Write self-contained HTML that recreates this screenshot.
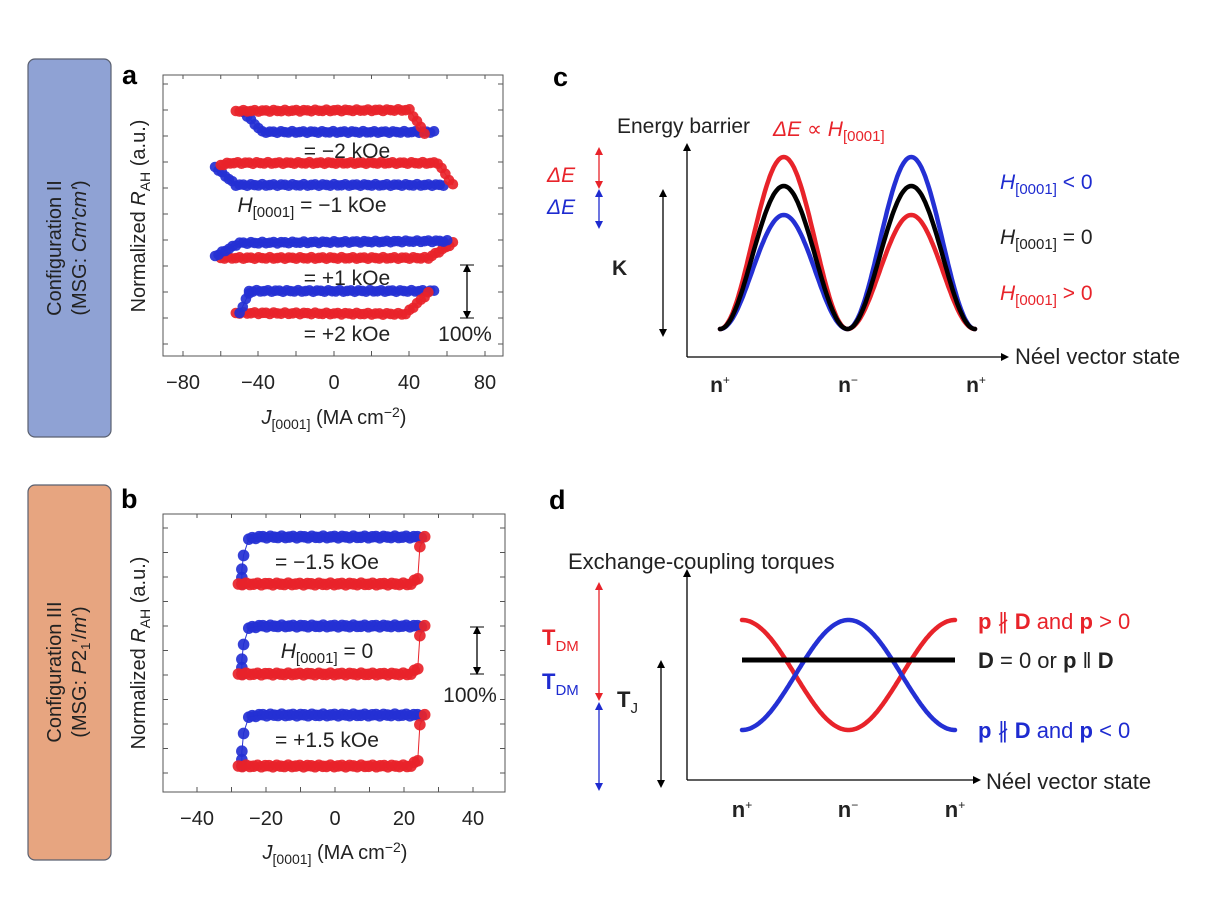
<!DOCTYPE html>
<html><head><meta charset="utf-8">
<style>
html,body{margin:0;padding:0;background:#fff;}
svg{display:block;font-family:"Liberation Sans",Arial,sans-serif;}
</style></head>
<body>
<svg id="s" width="1208" height="906" viewBox="0 0 1208 906" xmlns="http://www.w3.org/2000/svg">
<defs>
<marker id="ak" markerWidth="8" markerHeight="8" refX="4" refY="4" orient="auto-start-reverse" markerUnits="userSpaceOnUse"><path d="M0,0 L8,4 L0,8 z" fill="#000"/></marker>
<marker id="ar" markerWidth="8" markerHeight="8" refX="4" refY="4" orient="auto-start-reverse" markerUnits="userSpaceOnUse"><path d="M0,0 L8,4 L0,8 z" fill="#e8232a"/></marker>
<marker id="ab" markerWidth="8" markerHeight="8" refX="4" refY="4" orient="auto-start-reverse" markerUnits="userSpaceOnUse"><path d="M0,0 L8,4 L0,8 z" fill="#1e2bd0"/></marker>
</defs>
<rect x="28" y="59" width="83" height="378" rx="7" fill="#8fa2d4" stroke="#5a6070" stroke-width="1.2"/>
<text transform="translate(61,248) rotate(-90)" text-anchor="middle" font-size="20" fill="#222">Configuration II</text>
<text transform="translate(86,248) rotate(-90)" text-anchor="middle" font-size="20" fill="#222">(MSG: <tspan font-style="italic">Cm′cm′</tspan>)</text>
<rect x="28" y="485" width="83" height="375" rx="7" fill="#e7a580" stroke="#5a6070" stroke-width="1.2"/>
<text transform="translate(61,672) rotate(-90)" text-anchor="middle" font-size="20" fill="#222">Configuration III</text>
<text transform="translate(86,672) rotate(-90)" text-anchor="middle" font-size="20" fill="#222">(MSG: <tspan font-style="italic">P</tspan>2<tspan font-size="13" dy="4">1</tspan><tspan dy="-4">′/</tspan><tspan font-style="italic">m</tspan>′)</text>

<text x="122" y="84" font-size="27" font-weight="bold">a</text>
<text x="121" y="508" font-size="27" font-weight="bold">b</text>
<text x="553" y="86" font-size="27" font-weight="bold">c</text>
<text x="549" y="509" font-size="27" font-weight="bold">d</text>

<rect x="163" y="75" width="340" height="281" fill="none" stroke="#555" stroke-width="1"/>
<g id="ta"></g>
<text transform="translate(145,216) rotate(-90)" text-anchor="middle" font-size="20" fill="#222">Normalized <tspan font-style="italic">R</tspan><tspan font-size="14" dy="5">AH</tspan><tspan dy="-5"> (a.u.)</tspan></text>
<g font-size="20" fill="#222" text-anchor="middle">
<text x="183" y="389">−80</text><text x="258" y="389">−40</text><text x="334" y="389">0</text><text x="409" y="389">40</text><text x="485" y="389">80</text>
<text x="334" y="424"><tspan font-style="italic">J</tspan><tspan font-size="14" dy="5">[0001]</tspan><tspan dy="-5"> (MA cm</tspan><tspan font-size="14" dy="-7">−2</tspan><tspan dy="7">)</tspan></text>
</g>
<g id="da"></g>
<g font-size="21" fill="#222">
<text x="347" y="158" text-anchor="middle">= −2 kOe</text>
<text x="312" y="212" text-anchor="middle"><tspan font-style="italic">H</tspan><tspan font-size="15" dy="5">[0001]</tspan><tspan dy="-5"> = −1 kOe</tspan></text>
<text x="347" y="285" text-anchor="middle">= +1 kOe</text>
<text x="347" y="341" text-anchor="middle">= +2 kOe</text>
<text x="465" y="341" text-anchor="middle">100%</text>
</g>
<line x1="467" y1="268" x2="467" y2="315" stroke="#000" stroke-width="1.3" marker-start="url(#ak)" marker-end="url(#ak)"/>
<line x1="460" y1="265" x2="474" y2="265" stroke="#000"/><line x1="460" y1="318" x2="474" y2="318" stroke="#000"/>

<rect x="163" y="514" width="342" height="278" fill="none" stroke="#555" stroke-width="1"/>
<g id="tb"></g>
<text transform="translate(145,653) rotate(-90)" text-anchor="middle" font-size="20" fill="#222">Normalized <tspan font-style="italic">R</tspan><tspan font-size="14" dy="5">AH</tspan><tspan dy="-5"> (a.u.)</tspan></text>
<g font-size="20" fill="#222" text-anchor="middle">
<text x="197" y="825">−40</text><text x="266" y="825">−20</text><text x="335" y="825">0</text><text x="404" y="825">20</text><text x="473" y="825">40</text>
<text x="335" y="859"><tspan font-style="italic">J</tspan><tspan font-size="14" dy="5">[0001]</tspan><tspan dy="-5"> (MA cm</tspan><tspan font-size="14" dy="-7">−2</tspan><tspan dy="7">)</tspan></text>
</g>
<g id="db"></g>
<g font-size="21" fill="#222">
<text x="327" y="569" text-anchor="middle">= −1.5 kOe</text>
<text x="327" y="658" text-anchor="middle"><tspan font-style="italic">H</tspan><tspan font-size="15" dy="5">[0001]</tspan><tspan dy="-5"> = 0</tspan></text>
<text x="327" y="747" text-anchor="middle">= +1.5 kOe</text>
<text x="470" y="702" text-anchor="middle">100%</text>
</g>
<line x1="477" y1="630" x2="477" y2="671" stroke="#000" stroke-width="1.3" marker-start="url(#ak)" marker-end="url(#ak)"/>
<line x1="470" y1="627" x2="484" y2="627" stroke="#000"/><line x1="470" y1="674" x2="484" y2="674" stroke="#000"/>

<line x1="687" y1="357" x2="687" y2="147" stroke="#000" stroke-width="1.3" marker-end="url(#ak)"/>
<line x1="687" y1="357" x2="1005" y2="357" stroke="#000" stroke-width="1.3" marker-end="url(#ak)"/>
<g id="cc"></g>
<g font-size="21" fill="#222">
<text x="617" y="133">Energy barrier</text>
<text x="773" y="136" fill="#e8232a"><tspan font-style="italic">ΔE</tspan> ∝ <tspan font-style="italic">H</tspan><tspan font-size="15" dy="5">[0001]</tspan></text>
<text x="547" y="182" fill="#e8232a" font-style="italic">ΔE</text>
<text x="547" y="214" fill="#1e2bd0" font-style="italic">ΔE</text>
<text x="612" y="275" font-weight="bold">K</text>
<text x="1015" y="364" font-size="22">Néel vector state</text>
<text x="1000" y="189" fill="#1e2bd0"><tspan font-style="italic">H</tspan><tspan font-size="15" dy="5">[0001]</tspan><tspan dy="-5"> &lt; 0</tspan></text>
<text x="1000" y="244"><tspan font-style="italic">H</tspan><tspan font-size="15" dy="5">[0001]</tspan><tspan dy="-5"> = 0</tspan></text>
<text x="1000" y="300" fill="#e8232a"><tspan font-style="italic">H</tspan><tspan font-size="15" dy="5">[0001]</tspan><tspan dy="-5"> &gt; 0</tspan></text>
<g font-weight="bold" text-anchor="middle">
<text x="720" y="392">n<tspan font-size="12" dy="-8" font-weight="normal">+</tspan></text>
<text x="848" y="392">n<tspan font-size="12" dy="-8" font-weight="normal">−</tspan></text>
<text x="976" y="392">n<tspan font-size="12" dy="-8" font-weight="normal">+</tspan></text>
</g>
</g>
<line x1="599" y1="151" x2="599" y2="185" stroke="#e8232a" stroke-width="1.3" marker-start="url(#ar)" marker-end="url(#ar)"/>
<line x1="599" y1="193" x2="599" y2="225" stroke="#1e2bd0" stroke-width="1.3" marker-start="url(#ab)" marker-end="url(#ab)"/>
<line x1="663" y1="193" x2="663" y2="333" stroke="#000" stroke-width="1.3" marker-start="url(#ak)" marker-end="url(#ak)"/>

<line x1="687" y1="780" x2="687" y2="573" stroke="#000" stroke-width="1.3" marker-end="url(#ak)"/>
<line x1="687" y1="780" x2="977" y2="780" stroke="#000" stroke-width="1.3" marker-end="url(#ak)"/>
<g id="dd"></g>
<g font-size="22" fill="#222">
<text x="568" y="569">Exchange-coupling torques</text>
<text x="986" y="789">Néel vector state</text>
<text x="542" y="645" fill="#e8232a" font-weight="bold" font-size="22">T<tspan font-weight="normal" font-size="15" dy="6">DM</tspan></text>
<text x="542" y="689" fill="#1e2bd0" font-weight="bold" font-size="22">T<tspan font-weight="normal" font-size="15" dy="6">DM</tspan></text>
<text x="617" y="707" font-weight="bold" font-size="22">T<tspan font-weight="normal" font-size="15" dy="6">J</tspan></text>
<text x="978" y="629" fill="#e8232a"><tspan font-weight="bold">p</tspan> ∦ <tspan font-weight="bold">D</tspan> and <tspan font-weight="bold">p</tspan> &gt; 0</text>
<text x="978" y="668"><tspan font-weight="bold">D</tspan> = 0 or <tspan font-weight="bold">p</tspan> ‖ <tspan font-weight="bold">D</tspan></text>
<text x="978" y="738" fill="#1e2bd0"><tspan font-weight="bold">p</tspan> ∦ <tspan font-weight="bold">D</tspan> and <tspan font-weight="bold">p</tspan> &lt; 0</text>
<g font-weight="bold" text-anchor="middle">
<text x="742" y="817">n<tspan font-size="12" dy="-8" font-weight="normal">+</tspan></text>
<text x="848" y="817">n<tspan font-size="12" dy="-8" font-weight="normal">−</tspan></text>
<text x="955" y="817">n<tspan font-size="12" dy="-8" font-weight="normal">+</tspan></text>
</g>
</g>
<line x1="599" y1="586" x2="599" y2="697" stroke="#e8232a" stroke-width="1.3" marker-start="url(#ar)" marker-end="url(#ar)"/>
<line x1="599" y1="706" x2="599" y2="787" stroke="#1e2bd0" stroke-width="1.3" marker-start="url(#ab)" marker-end="url(#ab)"/>
<line x1="661" y1="664" x2="661" y2="784" stroke="#000" stroke-width="1.3" marker-start="url(#ak)" marker-end="url(#ak)"/>
</svg>
<script>
var NS="http://www.w3.org/2000/svg";
function el(p,t,a){var e=document.createElementNS(NS,t);for(var k in a)e.setAttribute(k,a[k]);document.getElementById(p).appendChild(e);return e;}
var R="#e8232a",B="#2430d4";
for(var y=84;y<356;y+=26){el("ta","line",{x1:163,y1:y,x2:168,y2:y,stroke:"#555"});el("ta","line",{x1:498,y1:y,x2:503,y2:y,stroke:"#555"});}
[183,220.75,258,296,334,371.5,409,447,485].forEach(function(x){el("ta","line",{x1:x,y1:356,x2:x,y2:351,stroke:"#555"});el("ta","line",{x1:x,y1:75,x2:x,y2:79,stroke:"#555"});});
for(var y=528;y<792;y+=24.5){el("tb","line",{x1:163,y1:y,x2:168,y2:y,stroke:"#555"});el("tb","line",{x1:500,y1:y,x2:505,y2:y,stroke:"#555"});}
for(var v=-40;v<=40;v+=10){var x=335+v*3.45;el("tb","line",{x1:x,y1:792,x2:x,y2:787,stroke:"#555"});el("tb","line",{x1:x,y1:514,x2:x,y2:518,stroke:"#555"});}
function series(g,X,knots,step,col,r){
  var pts=[];
  for(var i=0;i<knots.length-1;i++){var a=knots[i],b=knots[i+1];var n=Math.max(1,Math.round(Math.abs(b[0]-a[0])/step));if(Math.abs(b[0]-a[0])<0.5)n=Math.max(1,Math.round(Math.abs(b[1]-a[1])/8));
    for(var j=0;j<n;j++){var t=j/n;pts.push([a[0]+(b[0]-a[0])*t,a[1]+(b[1]-a[1])*t]);}}
  pts.push(knots[knots.length-1]);
  el(g,"polyline",{points:pts.map(function(p){return X(p[0])+","+p[1];}).join(" "),fill:"none",stroke:col,"stroke-width":1});
  pts.forEach(function(p,i){el(g,"circle",{cx:X(p[0]),cy:p[1]+Math.sin(i*2.3)*0.8,r:r,fill:col,"fill-opacity":0.92});});
}
var XA=function(v){return 334+v*1.8875;};
series("da",XA,[[-48,112],[-38,132],[53,132]],2,B,5.3);
series("da",XA,[[-52,111],[40,110],[48,133]],2,R,5.3);
series("da",XA,[[-63,167],[-52,185],[58,185]],2,B,5.3);
series("da",XA,[[-60,165],[-55,163],[55,163],[63,185]],2,R,5.3);
series("da",XA,[[-60,258],[50,258],[63,243]],2,R,5.3);
series("da",XA,[[-63,256],[-50,243],[60,241]],2,B,5.3);
series("da",XA,[[-45,291],[53,291]],2,B,5.3);
series("da",XA,[[-52,313],[38,314],[50,293]],2,R,5.3);
series("da",XA,[[-50,313],[-45,293]],2,B,5.3);
var XB=function(v){return 335+v*3.45;};
[[537,584],[626,674],[715,766]].forEach(function(l){
  series("db",XB,[[-27,l[1]],[-27,l[1]-14],[-26.5,l[0]+18],[-25,l[0]+2],[-22,l[0]],[25,l[0]]],1.1,B,5.8);
  series("db",XB,[[-28,l[1]],[22,l[1]],[24,l[1]-6],[24.6,l[0]+10],[26,l[0]]],1.1,R,5.8);
});
function curve(g,h1,h2,col){var d="";for(var i=0;i<=200;i++){var t=i/200;var x=720+t*255;var hh=t<0.5?h1:h2;var y=329-hh*(1-Math.cos(4*Math.PI*t))/2;d+=(i?"L":"M")+x.toFixed(1)+","+y.toFixed(1);}el(g,"path",{d:d,fill:"none",stroke:col,"stroke-width":4.5,"stroke-linecap":"round"});}
curve("cc",114,172,B);curve("cc",172,114,R);curve("cc",143,143,"#000");
function cs(s,col){var d="";for(var i=0;i<=200;i++){var t=i/200;var x=742+t*213;var y=675-s*55*Math.cos(2*Math.PI*t);d+=(i?"L":"M")+x.toFixed(1)+","+y.toFixed(1);}el("dd","path",{d:d,fill:"none",stroke:col,"stroke-width":4.5,"stroke-linecap":"round"});}
cs(1,R);cs(-1,B);
el("dd","line",{x1:742,y1:660,x2:955,y2:660,stroke:"#000","stroke-width":5});
</script>
</body></html>
